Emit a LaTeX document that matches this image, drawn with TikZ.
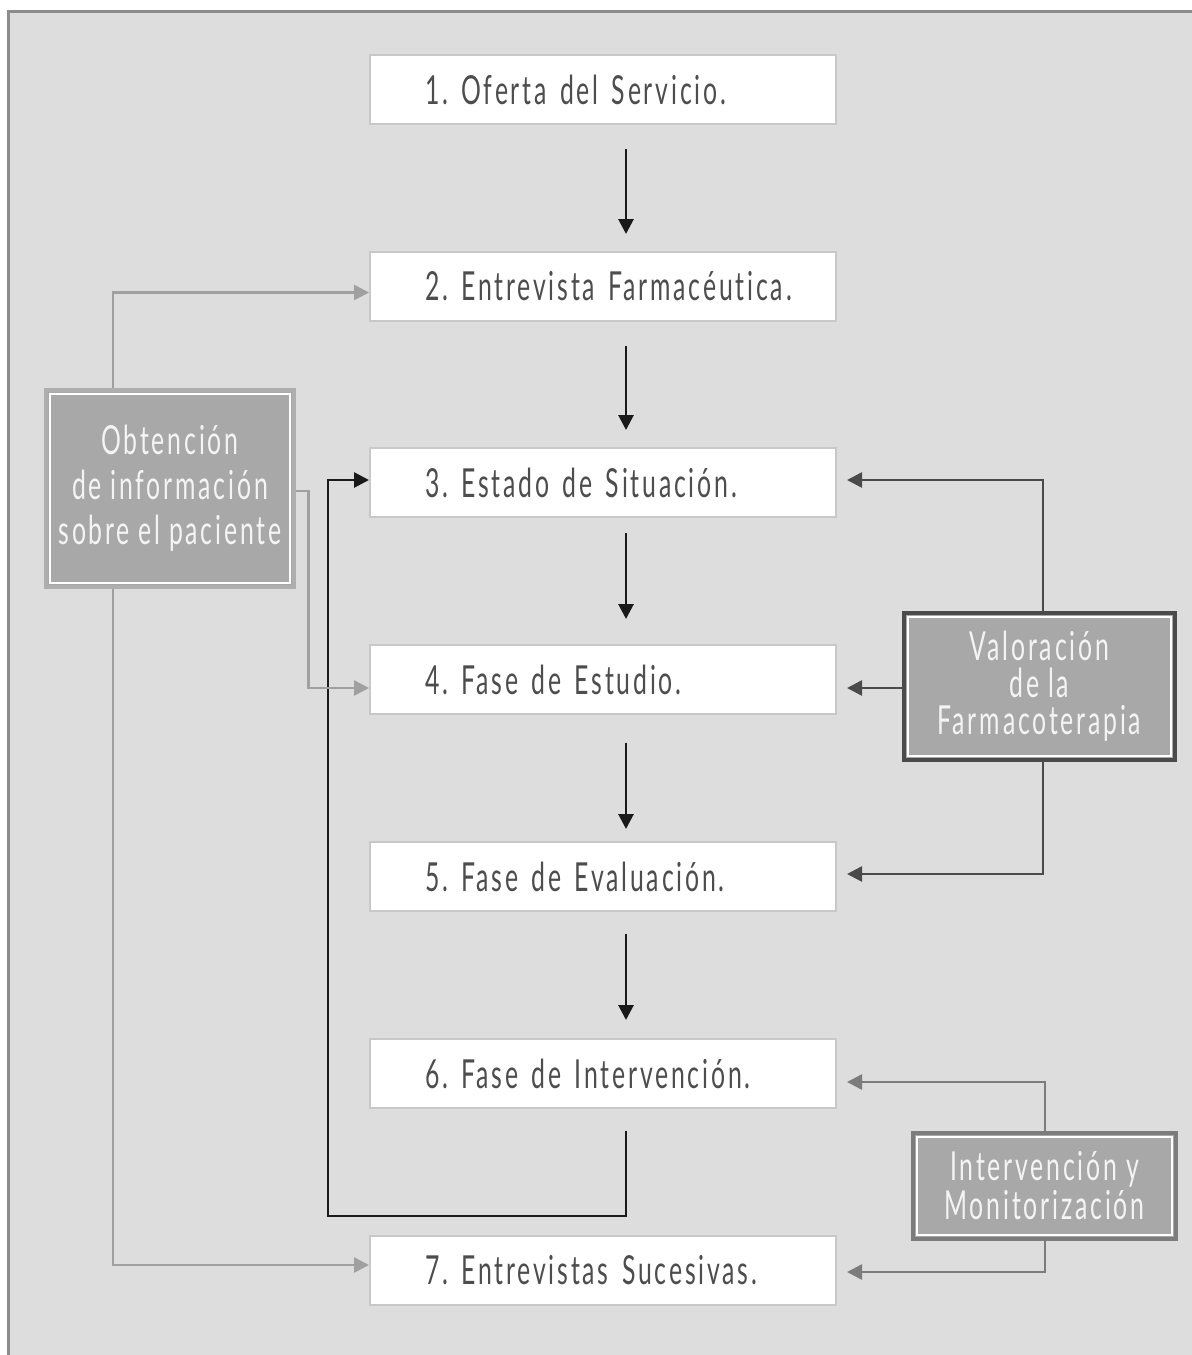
\documentclass[tikz,border=0pt]{standalone}
\usepackage{fontspec}
\setmainfont{Lato}[FakeStretch=0.62, LetterSpace=7, WordSpace=0.95, Ligatures=NoCommon]
\frenchspacing
\usetikzlibrary{arrows.meta,calc}
\definecolor{bg}{HTML}{DDDDDD}
\definecolor{framec}{HTML}{8C8C8C}
\definecolor{boxline}{HTML}{C8C8C8}
\definecolor{txt}{HTML}{4D4D4D}
\definecolor{panelfill}{HTML}{A8A8A8}
\definecolor{lgc}{HTML}{A0A0A0}
\definecolor{mgc}{HTML}{7C7C7C}
\definecolor{dgc}{HTML}{4A4A4A}
\definecolor{ltxt}{HTML}{F4F4F4}
\tikzset{
  mainbox/.style={draw=boxline, line width=1pt, fill=white, text=txt,
    text width=217pt, align=left, inner xsep=8pt, inner ysep=0pt,
    minimum height=34.5pt, font=\fontsize{20}{24}\selectfont,
    execute at begin node={\hspace*{19.5pt}}},
  panel/.style={fill=panelfill, line width=1.6pt, text=ltxt, align=center,
    inner sep=0pt},
  tipA/.style={-{Triangle[length=7.5pt,width=7.5pt]}},
  blkarrow/.style={tipA, draw=black!90, line width=1.4pt},
  lgline/.style={tipA, draw=lgc, line width=1.3pt},
  mgline/.style={tipA, draw=mgc, line width=1.3pt},
  dgline/.style={tipA, draw=dgc, line width=1.3pt},
  innerline/.style={draw=white, line width=1pt}
}
\begin{document}
\begin{tikzpicture}[x=0.5pt,y=-0.5pt]
\useasboundingbox (0,0) rectangle (1192,1355);
\fill[white] (0,0) rectangle (1192,1355);
\fill[bg] (7,10) rectangle (1192,1355);
\draw[framec, line width=1.5pt] (8.5,1355) -- (8.5,11.5) -- (1192,11.5);

% main boxes
\node[mainbox] (b1) at (603,89.5) {1. Oferta del Servicio.};
\node[mainbox] (b2) at (603,286.5) {2. Entrevista Farmacéutica.};
\node[mainbox] (b3) at (603,482.5) {3. Estado de Situación.};
\node[mainbox] (b4) at (603,679.5) {4. Fase de Estudio.};
\node[mainbox] (b5) at (603,876.5) {5. Fase de Evaluación.};
\node[mainbox] (b6) at (603,1073.5) {6. Fase de Intervención.};
\node[mainbox] (b7) at (603,1270.5) {7. Entrevistas Sucesivas.};

% side panels
\node[panel, draw=lgc!85, minimum width=124pt, minimum height=98.5pt,
  font=\fontsize{20}{22.5}\selectfont] (L) at (170,488.5)
  {Obtención\\de información\\sobre el paciente};
\draw[innerline] ($(L.north west)+(6,6)$) rectangle ($(L.south east)+(-6,-6)$);

\node[panel, draw=dgc, minimum width=135.5pt, minimum height=73.5pt,
  font=\fontsize{20}{18.5}\selectfont] (V) at (1039.5,686.5)
  {Valoración\\de la\\Farmacoterapia};
\draw[innerline] ($(V.north west)+(6,6)$) rectangle ($(V.south east)+(-6,-6)$);

\node[panel, draw=mgc, minimum width=131.5pt, minimum height=53pt,
  font=\fontsize{20}{19.5}\selectfont] (I) at (1044.5,1186)
  {Intervención y\\Monitorización};
\draw[innerline] ($(I.north west)+(6,6)$) rectangle ($(I.south east)+(-6,-6)$);

% main flow arrows
\draw[blkarrow] ($(b1.south)+(23,24)$) -- ($(b2.north)+(23,-17)$);
\draw[blkarrow] ($(b2.south)+(23,24)$) -- ($(b3.north)+(23,-17)$);
\draw[blkarrow] ($(b3.south)+(23,15)$) -- ($(b4.north)+(23,-25)$);
\draw[blkarrow] ($(b4.south)+(23,28)$) -- ($(b5.north)+(23,-12)$);
\draw[blkarrow] ($(b5.south)+(23,22)$) -- ($(b6.north)+(23,-18)$);

% feedback loop
\coordinate (loopc) at (328,1216);
\draw[blkarrow] ($(b6.south)+(23,22)$) |- (loopc) |- ($(b3.west)+(0,-2.5)$);

% left connectors
\draw[lgline] ($(L.north)+(-57,0)$) |- ($(b2.west)+(0,6)$);
\draw[lgline] ($(L.east)+(0,2.5)$) -- ++(13,0) |- ($(b4.west)+(0,8.5)$);
\draw[lgline] ($(L.south)+(-57,0)$) |- ($(b7.west)+(0,-5.5)$);

% right connectors
\draw[dgline] ($(V.north)+(3.5,0)$) |- ($(b3.east)+(10,-2.5)$);
\draw[dgline] ($(V.west)+(0,1.5)$) -- ($(b4.east)+(10,8.5)$);
\draw[dgline] ($(V.south)+(3.5,0)$) |- ($(b5.east)+(10,-2.5)$);
\draw[mgline] ($(I.north)+(0.5,0)$) |- ($(b6.east)+(10,8.5)$);
\draw[mgline] ($(I.south)+(0.5,0)$) |- ($(b7.east)+(10,1.5)$);
\end{tikzpicture}
\end{document}
